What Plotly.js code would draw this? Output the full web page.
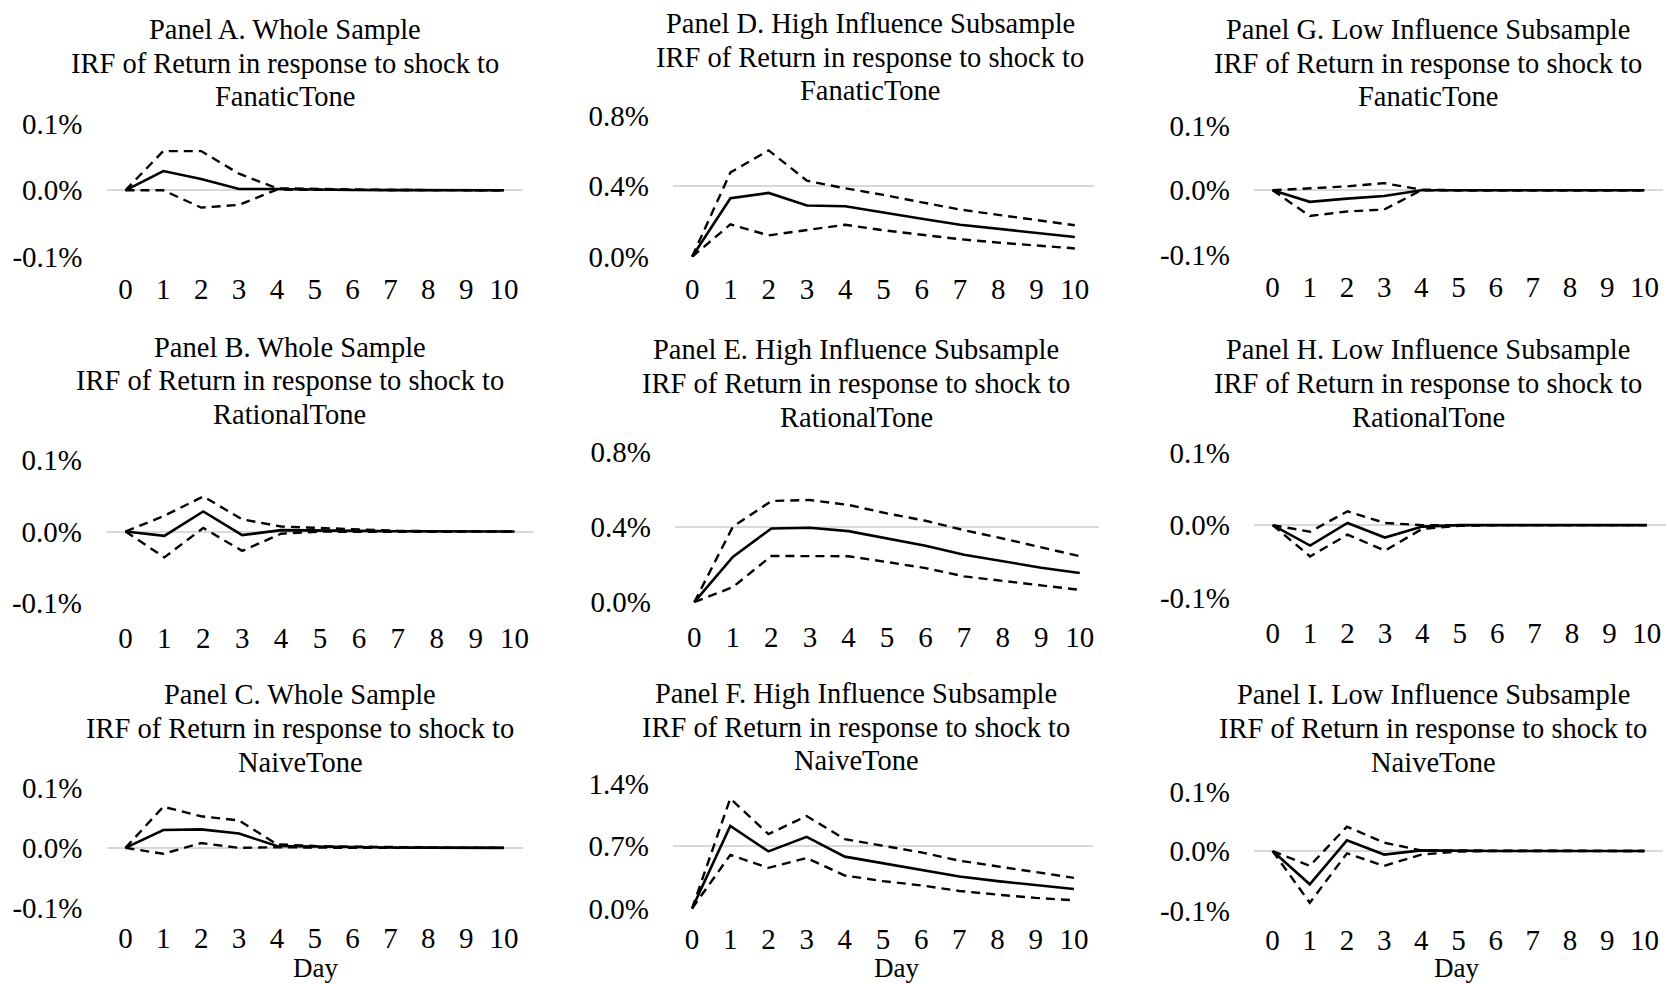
<!DOCTYPE html>
<html>
<head>
<meta charset="utf-8">
<script src="https://cdn.plot.ly/plotly-3.0.1.min.js"></script>
<style>html,body{margin:0;padding:0;background:#fff;}#chart{width:1667px;height:984px;}</style>
</head>
<body>
<div id="chart"></div>
<script>
// ---------- DATA (values in percent) ----------
const days = [0, 1, 2, 3, 4, 5, 6, 7, 8, 9, 10];
const dayLabels = ["0", "1", "2", "3", "4", "5", "6", "7", "8", "9", "10"];

const A_irf   = [0, 0.029, 0.017, 0.002, 0.002, 0.001, 0.0005, 0.0003, 0.0002, 0.0001, 0];
const A_upper = [0, 0.059, 0.059, 0.025, 0.003, 0.002, 0.001, 0.0005, 0.0003, 0.0002, 0.0001];
const A_lower = [0, 0.000, -0.026, -0.022, 0.001, 0.001, 0.0005, 0.0002, 0.0001, 0, 0];

const B_irf   = [0, -0.006, 0.028, -0.005, 0.002, 0.002, 0.001, 0.0005, 0.0003, 0.0001, 0];
const B_upper = [0, 0.022, 0.049, 0.017, 0.007, 0.005, 0.002, 0.001, 0.0005, 0.0002, 0.0001];
const B_lower = [0, -0.036, 0.005, -0.027, -0.003, 0.000, -0.0005, -0.0003, -0.0002, -0.0001, 0];

const C_irf   = [0, 0.030, 0.031, 0.024, 0.003, 0.002, 0.001, 0.0005, 0.0003, 0.0001, 0];
const C_upper = [0, 0.069, 0.053, 0.046, 0.006, 0.003, 0.002, 0.001, 0.0005, 0.0002, 0.0001];
const C_lower = [0, -0.010, 0.008, 0.000, 0.001, 0.000, 0, 0, 0, 0, 0];

const D_irf   = [0, 0.331, 0.361, 0.290, 0.286, 0.249, 0.215, 0.181, 0.157, 0.135, 0.112];
const D_upper = [0, 0.477, 0.602, 0.430, 0.387, 0.350, 0.308, 0.267, 0.237, 0.206, 0.178];
const D_lower = [0, 0.183, 0.121, 0.150, 0.181, 0.150, 0.125, 0.099, 0.080, 0.065, 0.047];

const E_irf   = [0, 0.240, 0.391, 0.395, 0.377, 0.338, 0.299, 0.252, 0.217, 0.183, 0.155];
const E_upper = [0, 0.400, 0.537, 0.542, 0.516, 0.471, 0.432, 0.382, 0.338, 0.290, 0.244];
const E_lower = [0, 0.080, 0.245, 0.245, 0.244, 0.213, 0.181, 0.137, 0.112, 0.089, 0.066];

const F_irf   = [0, 0.928, 0.642, 0.806, 0.583, 0.509, 0.438, 0.360, 0.308, 0.260, 0.219];
const F_upper = [0, 1.237, 0.836, 1.040, 0.780, 0.706, 0.631, 0.538, 0.472, 0.408, 0.345];
const F_lower = [0, 0.602, 0.457, 0.568, 0.371, 0.308, 0.260, 0.197, 0.156, 0.119, 0.093];

const G_irf   = [0, -0.018, -0.013, -0.009, 0.000, 0, 0, 0, 0, 0, 0];
const G_upper = [0, 0.003, 0.006, 0.011, 0.001, 0, 0, 0, 0, 0, 0];
const G_lower = [0, -0.040, -0.033, -0.030, 0.000, 0, 0, 0, 0, 0, 0];

const H_irf   = [0, -0.028, 0.003, -0.017, -0.002, 0, 0, 0, 0, 0, 0];
const H_upper = [0, -0.009, 0.019, 0.003, 0.000, 0.000, 0, 0, 0, 0, 0];
const H_lower = [0, -0.043, -0.013, -0.035, -0.005, -0.001, 0, 0, 0, 0, 0];

const I_irf   = [0, -0.056, 0.018, -0.006, 0.001, 0, 0, 0, 0, 0, 0];
const I_upper = [0, -0.025, 0.041, 0.014, 0.001, 0.001, 0, 0, 0, 0, 0];
const I_lower = [0, -0.087, -0.004, -0.025, -0.006, -0.001, 0, 0, 0, 0, 0];

const smallTicks = [-0.1, 0, 0.1];
const smallTickText = ["-0.1%", "0.0%", "0.1%"];
const midTicks = [0, 0.4, 0.8];
const midTickText = ["0.0%", "0.4%", "0.8%"];
const bigTicks = [0, 0.7, 1.4];
const bigTickText = ["0.0%", "0.7%", "1.4%"];

const titlesA = ["Panel A. Whole Sample", "IRF of Return in response to shock to", "FanaticTone"];
const titlesB = ["Panel B. Whole Sample", "IRF of Return in response to shock to", "RationalTone"];
const titlesC = ["Panel C. Whole Sample", "IRF of Return in response to shock to", "NaiveTone"];
const titlesD = ["Panel D. High Influence Subsample", "IRF of Return in response to shock to", "FanaticTone"];
const titlesE = ["Panel E. High Influence Subsample", "IRF of Return in response to shock to", "RationalTone"];
const titlesF = ["Panel F. High Influence Subsample", "IRF of Return in response to shock to", "NaiveTone"];
const titlesG = ["Panel G. Low Influence Subsample", "IRF of Return in response to shock to", "FanaticTone"];
const titlesH = ["Panel H. Low Influence Subsample", "IRF of Return in response to shock to", "RationalTone"];
const titlesI = ["Panel I. Low Influence Subsample", "IRF of Return in response to shock to", "NaiveTone"];
const xAxisTitle = "Day";

// ---------- LAYOUT (pixel boxes) ----------
const W = 1667, H = 984;
const FONT = '"Liberation Serif", "Times New Roman", Times, serif';
const FS_TICK = 29;
const FS_TITLE = 28.5;

const panels = [
  {irf: A_irf, up: A_upper, lo: A_lower, tv: smallTicks, tt: smallTickText, rng: [-0.1, 0.1],
   box: [106.5, 523, 123.3, 257.3], titles: titlesA, tx: 285, ty: [29.8, 63.8, 96.7], xs: 12},
  {irf: B_irf, up: B_upper, lo: B_lower, tv: smallTicks, tt: smallTickText, rng: [-0.1, 0.1],
   box: [106, 534, 459.3, 603.8], titles: titlesB, tx: 289.5, ty: [347.6, 380.6, 414.6], xs: 14},
  {irf: C_irf, up: C_upper, lo: C_lower, tv: smallTicks, tt: smallTickText, rng: [-0.1, 0.1],
   box: [106.5, 523, 787.8, 907.9], titles: titlesC, tx: 300, ty: [694.2, 728.2, 762.2], day: 315.7, xs: 10},
  {irf: D_irf, up: D_upper, lo: D_lower, tv: midTicks, tt: midTickText, rng: [0, 0.8],
   box: [673, 1094, 114.8, 257.3], titles: titlesD, tx: 870, ty: [23.4, 57.4, 90.4], xs: 12},
  {irf: E_irf, up: E_upper, lo: E_lower, tv: midTicks, tt: midTickText, rng: [0, 0.8],
   box: [675, 1099, 450.8, 602.8], titles: titlesE, tx: 856, ty: [349.8, 383.8, 417.8], xs: 14},
  {irf: F_irf, up: F_upper, lo: F_lower, tv: bigTicks, tt: bigTickText, rng: [0, 1.4],
   box: [673, 1093, 783.5, 909], titles: titlesF, tx: 856, ty: [693, 727, 760], day: 896.5, xs: 10},
  {irf: G_irf, up: G_upper, lo: G_lower, tv: smallTicks, tt: smallTickText, rng: [-0.1, 0.1],
   box: [1254, 1663, 125.4, 255.1], titles: titlesG, tx: 1428, ty: [29.8, 63.8, 96.7], xs: 12},
  {irf: H_irf, up: H_upper, lo: H_lower, tv: smallTicks, tt: smallTickText, rng: [-0.1, 0.1],
   box: [1254, 1665.5, 451.8, 598.5], titles: titlesH, tx: 1428, ty: [349.8, 383.8, 417.8], xs: 14},
  {irf: I_irf, up: I_upper, lo: I_lower, tv: smallTicks, tt: smallTickText, rng: [-0.1, 0.1],
   box: [1254, 1663, 791, 911], titles: titlesI, tx: 1433, ty: [694.2, 728.2, 762.2], day: 1456.5, xs: 9}
];

const traces = [];
const layout = {
  width: W, height: H,
  margin: {l: 0, r: 0, t: 0, b: 0},
  paper_bgcolor: '#ffffff', plot_bgcolor: '#ffffff',
  showlegend: false,
  font: {family: FONT, size: FS_TICK, color: '#000000'},
  annotations: []
};

panels.forEach((p, i) => {
  const n = i + 1;
  const xa = n === 1 ? 'x' : 'x' + n;
  const ya = n === 1 ? 'y' : 'y' + n;
  const [l, r, t, b] = p.box;
  const dashLine = {color: '#000000', width: 2.4, dash: '9px,6px'};
  traces.push({x: days, y: p.up, xaxis: xa, yaxis: ya, mode: 'lines', line: dashLine, hoverinfo: 'skip'});
  traces.push({x: days, y: p.lo, xaxis: xa, yaxis: ya, mode: 'lines', line: dashLine, hoverinfo: 'skip'});
  traces.push({x: days, y: p.irf, xaxis: xa, yaxis: ya, mode: 'lines', line: {color: '#000000', width: 2.6}, hoverinfo: 'skip'});
  const span = p.rng[1] - p.rng[0];
  layout['xaxis' + (n === 1 ? '' : n)] = {
    domain: [l / W, r / W], anchor: ya, range: [-0.5, 10.5],
    tickmode: 'array', tickvals: days, ticktext: dayLabels,
    showgrid: false, zeroline: false, showline: false, ticks: '',
    tickfont: {family: FONT, size: FS_TICK, color: '#000000'}, ticklabelstandoff: p.xs
  };
  layout['yaxis' + (n === 1 ? '' : n)] = {
    domain: [1 - b / H, 1 - t / H], anchor: xa,
    range: [p.rng[0] - span * 0.004, p.rng[1] + span * 0.004],
    tickmode: 'array', tickvals: p.tv, ticktext: p.tt,
    showgrid: true, gridcolor: '#d9d9d9', gridwidth: 2,
    zeroline: false, showline: false, ticks: '',
    tickfont: {family: FONT, size: FS_TICK, color: '#000000'}, ticklabelstandoff: 23
  };
  p.titles.forEach((txt, k) => {
    layout.annotations.push({
      text: txt, xref: 'paper', yref: 'paper', x: p.tx / W, y: 1 - p.ty[k] / H,
      xanchor: 'center', yanchor: 'middle', showarrow: false,
      font: {family: FONT, size: FS_TITLE, color: '#000000'}
    });
  });
  if (p.day) {
    layout.annotations.push({
      text: xAxisTitle, xref: 'paper', yref: 'paper', x: p.day / W, y: 0,
      xanchor: 'center', yanchor: 'bottom', showarrow: false, borderpad: 0,
      font: {family: FONT, size: 27, color: '#000000'}
    });
  }
});

Plotly.newPlot('chart', traces, layout, {staticPlot: true, displayModeBar: false});
</script>
</body>
</html>
